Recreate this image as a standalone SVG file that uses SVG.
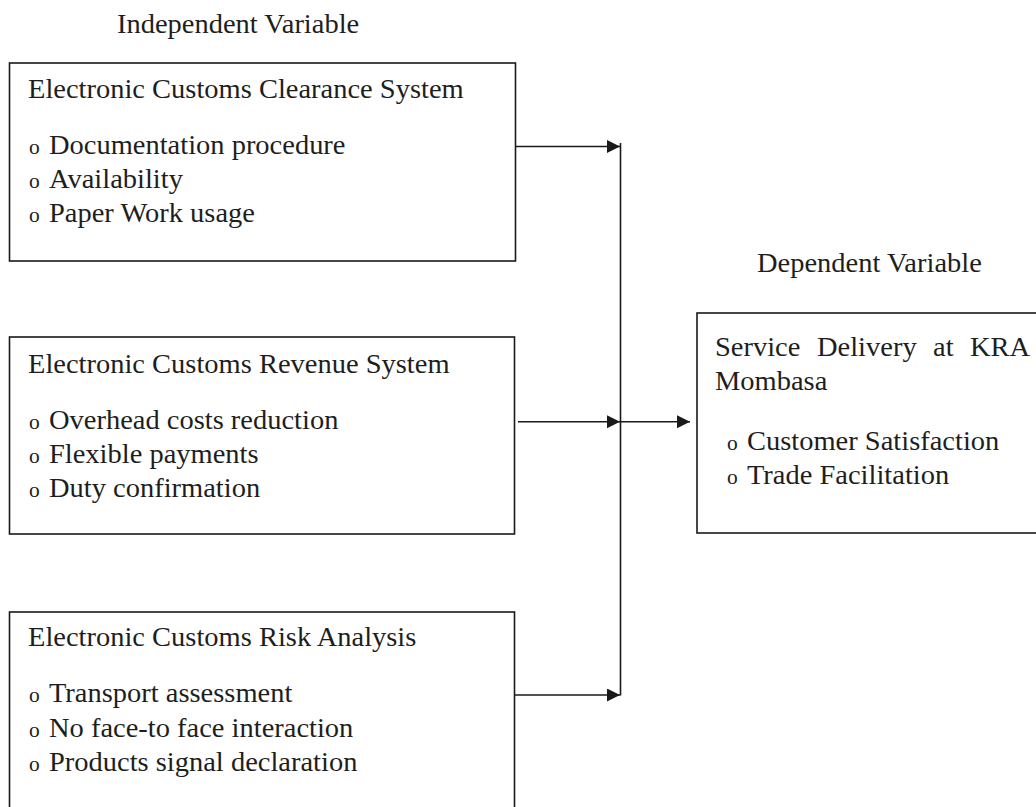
<svg xmlns="http://www.w3.org/2000/svg" width="1036" height="807" viewBox="0 0 1036 807">
<style>
  text { font-family: "Liberation Serif", "Times New Roman", serif; font-size: 26.5px; fill: #1e1e1e; }
  .b { font-size: 20px; }
  .box { fill: #ffffff; stroke: #1a1a1a; stroke-width: 1.6; }
  .conn { fill: none; stroke: #1a1a1a; stroke-width: 1.6; }
</style>
<defs>
  <marker id="ah" markerUnits="userSpaceOnUse" markerWidth="14" markerHeight="14" refX="13" refY="6.5" orient="auto">
    <path d="M0,0 L13,6.5 L0,13 z" fill="#1a1a1a"/>
  </marker>
</defs>
<rect width="1036" height="807" fill="#ffffff"/>

<g id="label-independent">
  <text transform="matrix(1.075,0,0,1,117,33)">Independent Variable</text>
</g>
<g id="label-dependent">
  <text transform="matrix(1.075,0,0,1,757,272)">Dependent Variable</text>
</g>

<g id="node-clearance">
  <rect class="box" x="9.5" y="63" width="506" height="198"/>
  <text transform="matrix(1.075,0,0,1,28,98)">Electronic Customs Clearance System</text>
  <text transform="matrix(1.075,0,0,1,29,154)"><tspan class="b">o</tspan><tspan x="18.6">Documentation procedure</tspan></text>
  <text transform="matrix(1.075,0,0,1,29,188)"><tspan class="b">o</tspan><tspan x="18.6">Availability</tspan></text>
  <text transform="matrix(1.075,0,0,1,29,222)"><tspan class="b">o</tspan><tspan x="18.6">Paper Work usage</tspan></text>
</g>

<g id="node-revenue">
  <rect class="box" x="9.5" y="337" width="505" height="197"/>
  <text transform="matrix(1.075,0,0,1,28,373)">Electronic Customs Revenue System</text>
  <text transform="matrix(1.075,0,0,1,29,429)"><tspan class="b">o</tspan><tspan x="18.6">Overhead costs reduction</tspan></text>
  <text transform="matrix(1.075,0,0,1,29,463)"><tspan class="b">o</tspan><tspan x="18.6">Flexible payments</tspan></text>
  <text transform="matrix(1.075,0,0,1,29,497)"><tspan class="b">o</tspan><tspan x="18.6">Duty confirmation</tspan></text>
</g>

<g id="node-risk">
  <rect class="box" x="9.5" y="612" width="505" height="220"/>
  <text transform="matrix(1.075,0,0,1,28,646)">Electronic Customs Risk Analysis</text>
  <text transform="matrix(1.075,0,0,1,29,702)"><tspan class="b">o</tspan><tspan x="18.6">Transport assessment</tspan></text>
  <text transform="matrix(1.075,0,0,1,29,737)"><tspan class="b">o</tspan><tspan x="18.6">No face-to face interaction</tspan></text>
  <text transform="matrix(1.075,0,0,1,29,771)"><tspan class="b">o</tspan><tspan x="18.6">Products signal declaration</tspan></text>
</g>

<g id="node-service">
  <rect class="box" x="697" y="313" width="360" height="220"/>
  <text transform="matrix(1.075,0,0,1,715,356)"><tspan x="0">Service</tspan><tspan x="94.9">Delivery</tspan><tspan x="202.8">at</tspan><tspan x="237.2">KRA</tspan></text>
  <text transform="matrix(1.075,0,0,1,715,390)">Mombasa</text>
  <text transform="matrix(1.075,0,0,1,727,450)"><tspan class="b">o</tspan><tspan x="18.6">Customer Satisfaction</tspan></text>
  <text transform="matrix(1.075,0,0,1,727,484)"><tspan class="b">o</tspan><tspan x="18.6">Trade Facilitation</tspan></text>
</g>

<g id="connectors">
  <path class="conn" d="M515,146.5 H620" marker-end="url(#ah)"/>
  <path class="conn" d="M518,421.7 H620" marker-end="url(#ah)"/>
  <path class="conn" d="M514,695 H620" marker-end="url(#ah)"/>
  <path class="conn" d="M620.5,143 V695.5"/>
  <path class="conn" d="M620.5,421.7 H690" marker-end="url(#ah)"/>
</g>
</svg>
